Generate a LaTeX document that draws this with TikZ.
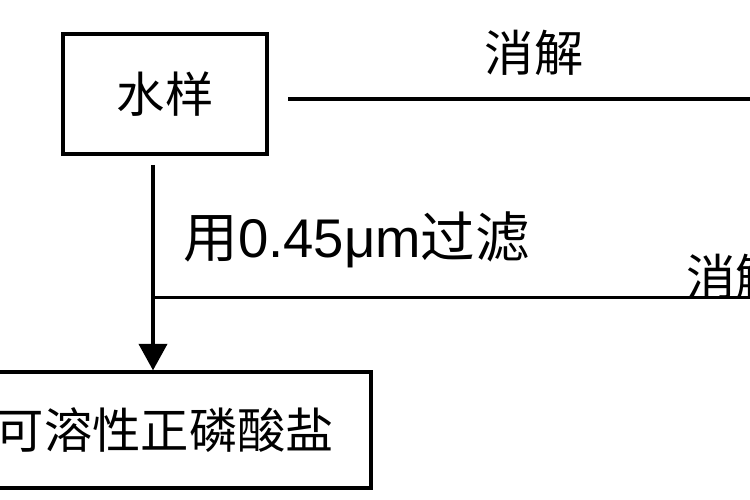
\documentclass[tikz,border=0pt]{standalone}
\usepackage{fontspec}
\setmainfont{Liberation Sans}
\newfontfamily\cjk{Noto Sans CJK SC}
\usetikzlibrary{arrows.meta,positioning}

\begin{document}
\begin{tikzpicture}[
    box/.style={draw, line width=1.9pt, minimum width=4.08cm, minimum height=2.4cm,
      font=\cjk\fontsize{27.5}{32}\selectfont},
    lbl/.style={font=\fontsize{28}{32}\selectfont, inner sep=0pt},
    line width=1.9pt, >={Triangle[width=16pt,length=15pt]}]
    \useasboundingbox (0,0) rectangle (15,10);
    \clip (0,0) rectangle (15,10);
    \node[box] (sample) at (3.3,8.12) {水样};
    \node[box, minimum width=8.24cm, minimum height=2.32cm] (ortho) at (3.3,1.4) {可溶性正磷酸盐};
    % digestion of the raw sample
    \coordinate (digA) at (5.76,8.02);
    \coordinate (digAend) at (15,8.02);
    \draw (digA) -- (digAend);
    \node[lbl] (digAlbl) at (10.68,8.94) {\cjk 消解};
    % filtration, then digestion of the filtrate
    \coordinate (filt) at (3.06,6.7);
    \coordinate (split) at (3.06,4.05);
    \coordinate (digBend) at (15,4.05);
    \draw[->] (filt) -- (filt |- ortho.north);
    \draw (split) -- (digBend);
    \node[lbl, anchor=west, font=\fontsize{31}{34}\selectfont] (filtlbl) at (3.64,5.2) {{\cjk 用}0.45μm{\cjk 过滤}};
    \node[lbl, anchor=west] (digBlbl) at (13.7,4.46) {\cjk 消解};
  \end{tikzpicture}
\end{document}
